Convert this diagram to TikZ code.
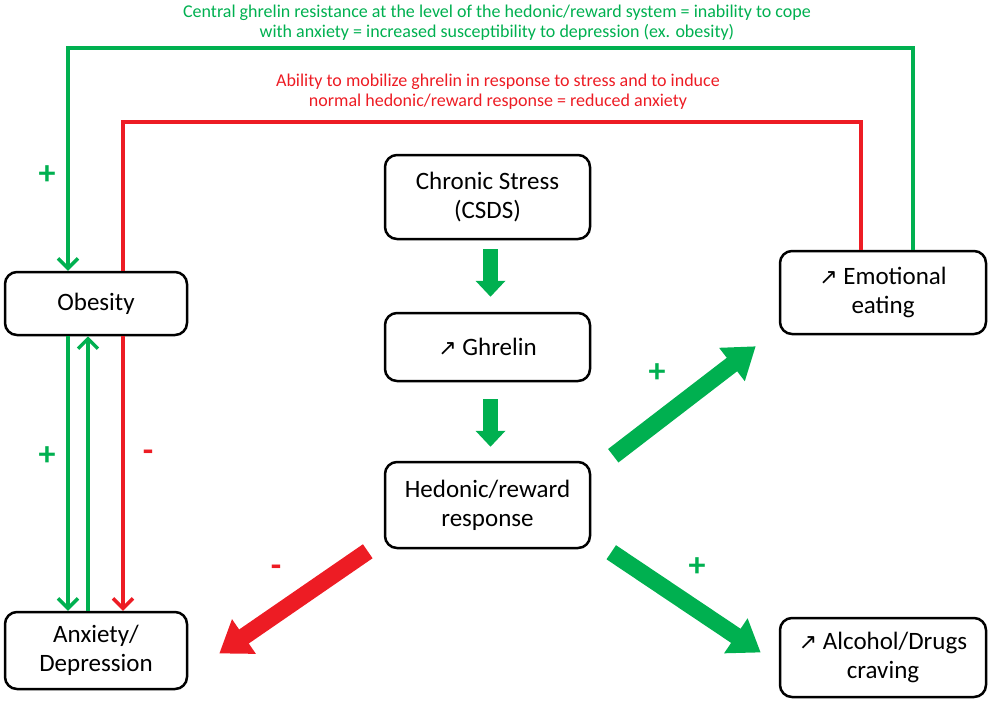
\documentclass[tikz,border=0pt]{standalone}
\usepackage{fontspec}
\setmainfont{Carlito}
\newfontfamily\symfont{DejaVu Sans}
\usepackage{xcolor}
\usepackage{tikz}
\usetikzlibrary{arrows.meta,positioning,calc}

\definecolor{fgreen}{RGB}{0,176,80}
\definecolor{fred}{RGB}{237,28,36}
\newcommand{\upsym}{{\symfont\fontsize{22}{22}\selectfont\raisebox{0pt}{↗}}}

\begin{document}
\begin{tikzpicture}[x=1pt,y=-1pt,
    box/.style={draw, line width=2.5pt, rounded corners=12pt, align=center,
        font=\fontsize{25}{29}\selectfont, inner sep=0pt},
    gline/.style={fgreen, line width=3.5pt},
    rline/.style={fred, line width=3.5pt},
    tip/.style={-{Straight Barb[length=10pt,width=20pt]}},
    bigarrow/.style={line width=15pt, -{Triangle[length=16pt,width=29pt]}},
    diagarrow/.style={line width=17pt, -{Triangle[length=30pt,width=40pt]}},
    sign/.style={font=\fontsize{34}{34}\selectfont\bfseries}]
    \useasboundingbox (0,0) rectangle (992,704);

    % Boxes
    \node[box, minimum width=182, minimum height=63] (obesity) at (96,303.5) {Obesity};
    \node[box, minimum width=182, minimum height=77] (anxiety) at (96,650.5) {Anxiety/\\Depression};
    \node[box, minimum width=205, minimum height=84] (chronic) at (487.5,197) {Chronic Stress\\(CSDS)};
    \node[box, minimum width=205, minimum height=68] (ghrelin) at (487.5,347) {\upsym\ Ghrelin};
    \node[box, minimum width=205, minimum height=86] (hedonic) at (487.5,505) {Hedonic/reward\\response};
    \node[box, minimum width=206, minimum height=83] (emotional) at (883,292.5) {\upsym\ Emotional\\eating};
    \node[box, minimum width=206, minimum height=79] (alcohol) at (883,657.5) {\upsym\ Alcohol/Drugs\\craving};

    % Top texts
    \node[fgreen, align=center, font=\fontsize{18}{20}\selectfont] (gtext) at (497,23)
        {Central ghrelin resistance at the level of the hedonic/reward system = inability to cope\\
         with anxiety = increased susceptibility to depression (ex. obesity)};
    \node[fred, align=center, font=\fontsize{18}{20}\selectfont] (rtext) at (498,92)
        {Ability to mobilize ghrelin in response to stress and to induce\\
         normal hedonic/reward response = reduced anxiety};

    % Feedback loops
    \coordinate (gR) at (913,48);
    \coordinate (gL) at (68,48);
    \coordinate (rR) at (861,122);
    \coordinate (rL) at (123,122);
    \draw[gline, tip] (emotional.north -| gR) -- (gR) -- (gL) -- (obesity.north -| gL);
    \draw[rline] (emotional.north -| rR) -- (rR) -- (rL) -- (obesity.north -| rL);

    % Obesity <-> anxiety
    \draw[gline, tip] (obesity.south -| gL) -- (anxiety.north -| gL);
    \draw[gline, tip] ([xshift=-8pt]anxiety.north) -- ([xshift=-8pt]obesity.south);
    \draw[rline, tip] (obesity.south -| rL) -- (anxiety.north -| rL);

    % Block arrows
    \draw[fgreen, bigarrow] ([xshift=3pt,yshift=-9pt]chronic.south) -- ([xshift=3pt,yshift=15pt]ghrelin.north);
    \draw[fgreen, bigarrow] ([xshift=3pt,yshift=-17pt]ghrelin.south) -- ([xshift=3pt,yshift=14pt]hedonic.north);
    \draw[fgreen, diagarrow] ([xshift=22pt,yshift=5pt]hedonic.north east) -- ([xshift=-23pt,yshift=-11pt]emotional.south west);
    \draw[fgreen, diagarrow] ([xshift=20pt,yshift=-3pt]hedonic.south east) -- ([xshift=-18pt,yshift=5pt]alcohol.west);
    \draw[fred, diagarrow] ([xshift=-16pt,yshift=-2pt]hedonic.south west) -- ([xshift=31pt,yshift=-3pt]anxiety.east);

    % Signs
    \node[sign, fgreen] (s1) at (47,175) {+};
    \node[sign, fgreen] (s2) at (47,456) {+};
    \node[sign, fred] (s3) at (148,456) {-};
    \node[sign, fgreen] (s4) at (657,373) {+};
    \node[sign, fgreen] (s5) at (697,567) {+};
    \node[sign, fred] (s6) at (276,571) {-};
\end{tikzpicture}
\end{document}
